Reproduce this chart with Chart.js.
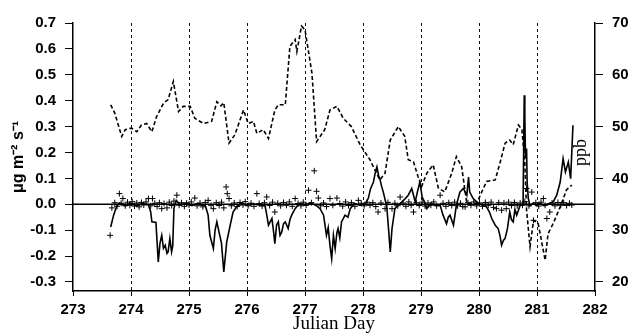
<!DOCTYPE html>
<html>
<head>
<meta charset="utf-8">
<script src="https://cdn.jsdelivr.net/npm/chart.js@4.4.0/dist/chart.umd.min.js"></script>
<style>
  html, body { margin: 0; padding: 0; background: #fff; }
</style>
</head>
<body>
<canvas id="myChart" width="638" height="335"></canvas>
<script>
// days with a dashed vertical line
let gridDays = [274, 275, 276, 277, 278, 279, 280, 281];
let fluxTicks = [-0.3, -0.2, -0.1, 0.0, 0.1, 0.2, 0.3, 0.4, 0.5, 0.6, 0.7];
let ppbTicks = [20, 30, 40, 50, 60, 70];

// ozone concentration, ppb (right axis, dashed)
let ozone = [
  [273.65, 54.2], [273.72, 52.6], [273.84, 48.1], [273.90, 49.4], [274.01, 49.7], [274.10, 49.0],
  [274.18, 50.3], [274.27, 50.6], [274.36, 49.0], [274.44, 51.9], [274.56, 54.5], [274.64, 55.2],
  [274.73, 58.7], [274.82, 52.9], [274.90, 53.9], [275.02, 53.9], [275.10, 51.6], [275.25, 50.6],
  [275.39, 51.0], [275.48, 54.8], [275.55, 54.0], [275.60, 54.6], [275.69, 46.8], [275.79, 48.4],
  [275.94, 53.2], [276.02, 50.6], [276.11, 51.0], [276.17, 48.7], [276.28, 49.4], [276.37, 47.7],
  [276.48, 53.2], [276.54, 54.2], [276.66, 54.2], [276.74, 65.5], [276.83, 66.8], [276.86, 64.5],
  [276.94, 69.4], [277.00, 68.7], [277.12, 60.3], [277.20, 47.1], [277.34, 49.4], [277.43, 53.2],
  [277.55, 53.9], [277.66, 51.6], [277.80, 50.0], [277.95, 46.5], [278.12, 43.6], [278.29, 39.7],
  [278.38, 41.0], [278.47, 47.4], [278.61, 50.0], [278.72, 48.1], [278.78, 43.6], [278.87, 43.2],
  [278.95, 40.3], [279.01, 38.4], [279.10, 41.0], [279.21, 42.6], [279.30, 38.1], [279.41, 37.4],
  [279.53, 41.0], [279.61, 44.2], [279.70, 42.3], [279.79, 35.2], [279.96, 35.2], [280.13, 39.4],
  [280.28, 39.7], [280.36, 42.9], [280.45, 46.8], [280.53, 47.4], [280.59, 46.5], [280.68, 50.3],
  [280.74, 49.4], [280.79, 42.9], [280.82, 33.9], [280.88, 26.8], [280.94, 31.9], [281.02, 31.3],
  [281.14, 24.2], [281.19, 29.3], [281.28, 31.3], [281.40, 34.5], [281.51, 37.8], [281.60, 38.7]
];

// ozone flux, ug m-2 s-1 (left axis, solid)
let flux = [
  [273.65, -0.088], [273.70, -0.042], [273.75, -0.01], [273.80, 0.005], [273.90, -0.005], [274.00, 0.004],
  [274.10, -0.006], [274.20, 0.003], [274.30, -0.002], [274.34, -0.03], [274.36, -0.068], [274.43, -0.07],
  [274.47, -0.223], [274.50, -0.15], [274.53, -0.12], [274.56, -0.17], [274.59, -0.158], [274.62, -0.19],
  [274.64, -0.184], [274.67, -0.132], [274.70, -0.184], [274.72, -0.16], [274.74, -0.017], [274.78, 0.015],
  [274.85, -0.003], [274.95, 0.004], [275.05, -0.005], [275.15, 0.003], [275.22, -0.004], [275.28, -0.004],
  [275.33, -0.042], [275.36, -0.12], [275.42, -0.171], [275.45, -0.1], [275.48, -0.068], [275.53, -0.12],
  [275.56, -0.15], [275.60, -0.261], [275.65, -0.146], [275.71, -0.081], [275.76, -0.03], [275.82, -0.01],
  [275.90, 0.003], [276.00, -0.004], [276.10, 0.002], [276.20, -0.003], [276.31, -0.004], [276.34, -0.04],
  [276.37, -0.081], [276.43, -0.055], [276.46, -0.11], [276.48, -0.152], [276.51, -0.08], [276.54, -0.068],
  [276.57, -0.12], [276.60, -0.107], [276.63, -0.075], [276.66, -0.068], [276.71, -0.094], [276.74, -0.06],
  [276.77, -0.042], [276.83, -0.017], [276.90, 0.004], [277.00, -0.003], [277.10, 0.005], [277.20, -0.006],
  [277.26, -0.017], [277.32, -0.042], [277.37, -0.12], [277.40, -0.09], [277.43, -0.158], [277.46, -0.21],
  [277.49, -0.12], [277.52, -0.171], [277.55, -0.11], [277.57, -0.094], [277.60, -0.13], [277.63, -0.068],
  [277.69, -0.042], [277.74, -0.05], [277.78, -0.017], [277.85, 0.003], [277.95, -0.004], [278.05, 0.005],
  [278.09, 0.022], [278.13, 0.06], [278.18, 0.086], [278.21, 0.12], [278.24, 0.144], [278.27, 0.11],
  [278.29, 0.099], [278.32, 0.07], [278.35, 0.047], [278.41, -0.01], [278.44, -0.094], [278.47, -0.184],
  [278.50, -0.094], [278.55, -0.017], [278.60, -0.005], [278.67, 0.009], [278.72, 0.02], [278.78, 0.035],
  [278.84, 0.061], [278.90, 0.009], [278.94, 0.05], [278.98, 0.086], [279.02, 0.028], [279.06, 0.009],
  [279.10, -0.017], [279.18, 0.004], [279.26, -0.005], [279.33, -0.004], [279.38, -0.042], [279.44, -0.075],
  [279.47, -0.05], [279.50, -0.042], [279.56, -0.081], [279.61, -0.004], [279.67, 0.047], [279.73, 0.061],
  [279.79, 0.035], [279.82, 0.105], [279.84, 0.047], [279.90, 0.022], [279.96, 0.009], [280.05, -0.003],
  [280.13, -0.01], [280.18, -0.03], [280.22, -0.055], [280.28, -0.081], [280.33, -0.094], [280.36, -0.12],
  [280.39, -0.158], [280.42, -0.14], [280.45, -0.132], [280.49, -0.094], [280.53, -0.03], [280.56, -0.06],
  [280.59, -0.068], [280.62, -0.02], [280.65, -0.042], [280.71, -0.004], [280.76, -0.004], [280.78, 0.421],
  [280.79, 0.344], [280.80, 0.2], [280.81, 0.176], [280.82, 0.215], [280.83, 0.086], [280.85, 0.022],
  [280.88, -0.006], [280.93, 0.004], [280.99, -0.004], [281.05, 0.003], [281.12, -0.005], [281.20, 0.002],
  [281.28, 0.009], [281.34, 0.035], [281.40, 0.086], [281.45, 0.176], [281.49, 0.125], [281.54, 0.163],
  [281.58, 0.099], [281.62, 0.305]
];

// second flux estimate, plotted as crosses (left axis)
let fluxCross = [
  [273.64, -0.12], [273.67, -0.014], [273.72, 0.006], [273.76, -0.008], [273.80, 0.041], [273.83, 0.004],
  [273.86, 0.022], [273.90, -0.006], [273.94, 0.008], [273.98, -0.004], [274.02, 0.01], [274.06, -0.007],
  [274.10, 0.005], [274.14, -0.01], [274.18, 0.007], [274.22, -0.003], [274.26, 0.009], [274.30, 0.022],
  [274.34, -0.006], [274.37, 0.022], [274.41, 0.004], [274.45, -0.009], [274.49, 0.006], [274.53, -0.017],
  [274.57, 0.003], [274.62, -0.014], [274.66, 0.008], [274.70, -0.005], [274.74, 0.012], [274.79, 0.035],
  [274.83, -0.004], [274.87, 0.006], [274.92, -0.008], [274.96, 0.005], [275.00, -0.003], [275.04, 0.009],
  [275.10, 0.024], [275.14, -0.006], [275.19, 0.005], [275.24, -0.01], [275.28, 0.007], [275.33, 0.015],
  [275.38, -0.004], [275.42, -0.017], [275.47, 0.006], [275.52, -0.005], [275.56, 0.008], [275.60, -0.014],
  [275.64, 0.067], [275.66, 0.041], [275.69, 0.022], [275.73, -0.006], [275.78, 0.005], [275.83, -0.009],
  [275.88, 0.007], [275.93, -0.003], [275.97, 0.01], [276.02, -0.006], [276.07, 0.004], [276.12, -0.008],
  [276.17, 0.041], [276.21, 0.003], [276.26, -0.007], [276.30, 0.006], [276.34, 0.028], [276.39, -0.005],
  [276.44, 0.008], [276.48, -0.03], [276.53, 0.004], [276.58, -0.006], [276.63, 0.007], [276.68, -0.004],
  [276.73, 0.009], [276.78, -0.008], [276.83, 0.022], [276.88, 0.003], [276.93, -0.006], [276.97, 0.008],
  [277.02, -0.004], [277.06, 0.054], [277.11, 0.006], [277.16, 0.129], [277.20, 0.05], [277.23, 0.024],
  [277.27, -0.006], [277.32, 0.005], [277.37, -0.009], [277.43, 0.022], [277.48, -0.004], [277.55, 0.024],
  [277.60, 0.003], [277.65, -0.007], [277.70, 0.009], [277.75, -0.005], [277.80, 0.006], [277.86, -0.008],
  [277.92, 0.015], [277.97, 0.004], [278.02, -0.006], [278.07, 0.008], [278.12, -0.004], [278.17, 0.006],
  [278.22, -0.009], [278.26, -0.03], [278.31, 0.005], [278.38, -0.017], [278.43, 0.007], [278.50, -0.017],
  [278.55, 0.004], [278.60, -0.006], [278.64, 0.028], [278.69, 0.005], [278.74, -0.008], [278.79, 0.009],
  [278.83, -0.004], [278.87, -0.03], [278.92, 0.006], [278.97, -0.005], [279.02, 0.008], [279.07, -0.007],
  [279.12, 0.005], [279.17, -0.004], [279.22, 0.009], [279.27, -0.006], [279.33, 0.035], [279.38, 0.004],
  [279.43, -0.008], [279.48, 0.006], [279.53, -0.005], [279.58, 0.008], [279.63, -0.006], [279.68, 0.004],
  [279.72, -0.009], [279.76, -0.01], [279.81, 0.006], [279.86, -0.004], [279.91, 0.009], [279.96, -0.006],
  [280.01, 0.005], [280.06, -0.008], [280.11, 0.007], [280.16, -0.004], [280.21, 0.008], [280.25, -0.012],
  [280.30, -0.017], [280.34, 0.006], [280.39, -0.023], [280.43, 0.005], [280.47, -0.017], [280.51, 0.008],
  [280.56, -0.005], [280.61, 0.007], [280.66, -0.006], [280.71, 0.005], [280.75, -0.004], [280.79, 0.01],
  [280.82, 0.061], [280.86, -0.006], [280.91, 0.047], [280.94, -0.062], [280.98, 0.006], [281.03, -0.007],
  [281.07, 0.008], [281.11, 0.022], [281.14, -0.004], [281.17, -0.055], [281.22, -0.03], [281.26, 0.005],
  [281.31, -0.006], [281.36, 0.007], [281.41, -0.004], [281.46, 0.006], [281.51, -0.005], [281.56, 0.004],
  [281.60, -0.003]
];

function toPoints(arr) {
    return arr.map(p => ({ x: p[0], y: p[1] }));
}

// dashed day lines and the zero line, behind the data
let dayLines = {
    id: 'dayLines',
    beforeDatasetsDraw(chart) {
        let ctx = chart.ctx;
        let area = chart.chartArea;
        let xs = chart.scales.x;
        let ys = chart.scales.y;
        ctx.save();
        ctx.strokeStyle = '#111';
        ctx.lineWidth = 1;
        ctx.setLineDash([3, 3]);
        for (let i = 0; i < gridDays.length; i++) {
            let px = Math.round(xs.getPixelForValue(gridDays[i])) + 0.5;
            ctx.beginPath();
            ctx.moveTo(px, area.top);
            ctx.lineTo(px, area.bottom);
            ctx.stroke();
        }
        ctx.setLineDash([]);
        ctx.strokeStyle = '#000';
        ctx.lineWidth = 1.6;
        let zy = ys.getPixelForValue(0);
        ctx.beginPath();
        ctx.moveTo(area.left, zy);
        ctx.lineTo(area.right, zy);
        ctx.stroke();
        ctx.restore();
    }
};

// "ppb" sits inside the plot, next to the right axis
let ppbLabel = {
    id: 'ppbLabel',
    afterDraw(chart) {
        let ctx = chart.ctx;
        let area = chart.chartArea;
        ctx.save();
        ctx.translate(area.right - 14, chart.scales.y1.getPixelForValue(45));
        ctx.rotate(-Math.PI / 2);
        ctx.font = '18px "Liberation Serif"';
        ctx.fillStyle = '#000';
        ctx.textAlign = 'center';
        ctx.textBaseline = 'middle';
        ctx.fillText('ppb', 0, 0);
        ctx.restore();
    }
};

let tickFont = { family: '"Liberation Sans", Arial, sans-serif', size: 15, weight: 'bold' };

let ctx = document.getElementById('myChart').getContext('2d');
let myChart = new Chart(ctx, {
    type: 'line',
    data: {
        datasets: [{
            label: 'cross',
            data: toPoints(fluxCross),
            yAxisID: 'y',
            showLine: false,
            pointStyle: 'cross',
            pointRadius: 3,
            pointBorderWidth: 1,
            borderColor: '#000',
            backgroundColor: '#000'
        }, {
            label: 'flux',
            data: toPoints(flux),
            yAxisID: 'y',
            borderColor: '#000',
            borderWidth: 1.6,
            pointRadius: 0,
            tension: 0
        }, {
            label: 'ppb',
            data: toPoints(ozone),
            yAxisID: 'y1',
            borderColor: '#000',
            borderWidth: 1.6,
            borderDash: [4, 2.5],
            pointRadius: 0,
            tension: 0
        }]
    },
    options: {
        responsive: false,
        animation: false,
        devicePixelRatio: 1,
        layout: { padding: { top: 23, right: 0, bottom: 0, left: 0 } },
        plugins: {
            legend: { display: false },
            tooltip: { enabled: false }
        },
        scales: {
            x: {
                type: 'linear',
                min: 273,
                max: 282,
                ticks: {
                    stepSize: 1,
                    color: '#000',
                    font: tickFont,
                    padding: 5,
                    maxRotation: 0,
                    callback: v => v
                },
                grid: { drawOnChartArea: false, tickLength: 5, tickColor: '#000' },
                border: { display: true, color: '#000', width: 1.5 },
                title: {
                    display: true,
                    text: 'Julian Day',
                    color: '#000',
                    font: { family: '"Liberation Serif", "Times New Roman", serif', size: 19 },
                    padding: 0
                },
                afterFit: s => { s.height = 44; }
            },
            y: {
                position: 'left',
                min: -0.335,
                max: 0.7,
                afterBuildTicks: s => { s.ticks = fluxTicks.map(v => ({ value: v })); },
                ticks: {
                    color: '#000',
                    font: tickFont,
                    padding: 9,
                    callback: v => v.toFixed(1)
                },
                grid: { drawOnChartArea: false, tickLength: 8, tickColor: '#000' },
                border: { display: true, color: '#000', width: 1.5 },
                title: {
                    display: true,
                    text: 'μg m⁻² s⁻¹',
                    color: '#000',
                    font: { family: '"Liberation Sans", Arial, sans-serif', size: 16, weight: 'bold' },
                    padding: { top: 9, bottom: 0 }
                },
                afterFit: s => { s.width = 73; }
            },
            y1: {
                position: 'right',
                min: 18.25,
                max: 70,
                afterBuildTicks: s => { s.ticks = ppbTicks.map(v => ({ value: v })); },
                ticks: {
                    color: '#000',
                    font: tickFont,
                    padding: 9
                },
                grid: { drawOnChartArea: false, tickLength: 8, tickColor: '#000' },
                border: { display: true, color: '#000', width: 1.5 },
                afterFit: s => { s.width = 43; }
            }
        }
    },
    plugins: [dayLines, ppbLabel]
});
</script>
</body>
</html>
